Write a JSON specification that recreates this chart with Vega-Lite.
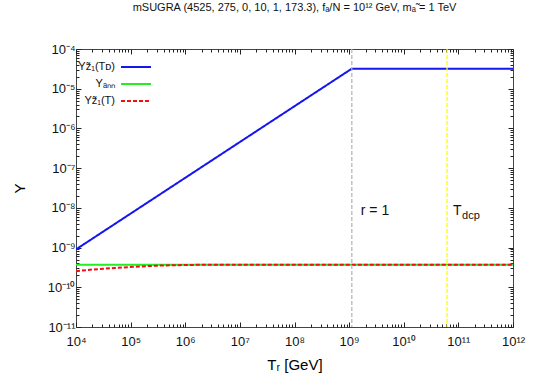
{
  "$schema": "https://vega.github.io/schema/vega-lite/v6.json",
  "width": 437,
  "height": 278,
  "autosize": "none",
  "padding": {"left": 76, "top": 49, "right": 32, "bottom": 55},
  "background": "white",
  "config": {
    "font": "Liberation Sans",
    "view": {"stroke": "#444444", "strokeWidth": 1},
    "axis": {"domain": false, "grid": false, "labelFlush": false, "labelFont": "Liberation Sans", "titleFont": "Liberation Sans", "titleFontWeight": "normal", "tickColor": "#222222", "labelColor": "#111111", "labelFontSize": 13}
  },
  "title": {"text": "mSUGRA (4525, 275, 0, 10, 1, 173.3), fₐ/N = 10¹² GeV, mₐ̃ = 1 TeV", "fontSize": 11, "fontWeight": "normal", "font": "Liberation Sans", "offset": 30, "anchor": "middle", "color": "#111111"},
  "resolve": {"axis": {"x": "independent", "y": "independent"}, "scale": {"color": "independent", "strokeDash": "independent"}},
  "layer": [
    {
      "data": {"values": [
        {"T": 1e4, "Y": 9e-10, "series": "Yz̃₁(Tᴅ)"},
        {"T": 1.12e9, "Y": 3.2e-5, "series": "Yz̃₁(Tᴅ)"},
        {"T": 1e12, "Y": 3.2e-5, "series": "Yz̃₁(Tᴅ)"},
        {"T": 1e4, "Y": 3.7e-10, "series": "Yₐₙₙ"},
        {"T": 1e12, "Y": 3.7e-10, "series": "Yₐₙₙ"},
        {"T": 1e4, "Y": 2.55e-10, "series": "Yz̃₁(T)"},
        {"T": 2e4, "Y": 2.8e-10, "series": "Yz̃₁(T)"},
        {"T": 5e4, "Y": 3.05e-10, "series": "Yz̃₁(T)"},
        {"T": 1e5, "Y": 3.25e-10, "series": "Yz̃₁(T)"},
        {"T": 3e5, "Y": 3.5e-10, "series": "Yz̃₁(T)"},
        {"T": 1e6, "Y": 3.65e-10, "series": "Yz̃₁(T)"},
        {"T": 3e6, "Y": 3.7e-10, "series": "Yz̃₁(T)"},
        {"T": 1e12, "Y": 3.7e-10, "series": "Yz̃₁(T)"}
      ]},
      "mark": {"type": "line", "strokeWidth": 2, "clip": true},
      "encoding": {
        "x": {"field": "T", "type": "quantitative", "scale": {"type": "log", "domain": [1e4, 1e12]},
          "axis": {"orient": "bottom", "title": "Tᵣ [GeV]", "titleFontSize": 15, "titlePadding": 9, "labelFontSize": 13, "labelPadding": 13,
            "values": [1e4,2e4,3e4,4e4,5e4,6e4,7e4,8e4,9e4,1e5,2e5,3e5,4e5,5e5,6e5,7e5,8e5,9e5,1e6,2e6,3e6,4e6,5e6,6e6,7e6,8e6,9e6,1e7,2e7,3e7,4e7,5e7,6e7,7e7,8e7,9e7,1e8,2e8,3e8,4e8,5e8,6e8,7e8,8e8,9e8,1e9,2e9,3e9,4e9,5e9,6e9,7e9,8e9,9e9,1e10,2e10,3e10,4e10,5e10,6e10,7e10,8e10,9e10,1e11,2e11,3e11,4e11,5e11,6e11,7e11,8e11,9e11,1e12],
            "labelExpr": "abs(log(datum.value)/LN10 - round(log(datum.value)/LN10)) < 1e-6 ? ['10⁴','10⁵','10⁶','10⁷','10⁸','10⁹','10¹⁰','10¹¹','10¹²'][round(log(datum.value)/LN10)-4] : ''",
            "tickSize": {"condition": {"test": "abs(log(datum.value)/LN10 - round(log(datum.value)/LN10)) < 1e-6", "value": -5}, "value": -3}}},
        "y": {"field": "Y", "type": "quantitative", "scale": {"type": "log", "domain": [1e-11, 1e-4]},
          "axis": {"orient": "left", "title": "Y", "titleFontSize": 15, "titlePadding": 20, "labelFontSize": 13, "labelPadding": 6,
            "values": [1e-11,2e-11,3e-11,4e-11,5e-11,6e-11,7e-11,8e-11,9e-11,1e-10,2e-10,3e-10,4e-10,5e-10,6e-10,7e-10,8e-10,9e-10,1e-9,2e-9,3e-9,4e-9,5e-9,6e-9,7e-9,8e-9,9e-9,1e-8,2e-8,3e-8,4e-8,5e-8,6e-8,7e-8,8e-8,9e-8,1e-7,2e-7,3e-7,4e-7,5e-7,6e-7,7e-7,8e-7,9e-7,1e-6,2e-6,3e-6,4e-6,5e-6,6e-6,7e-6,8e-6,9e-6,1e-5,2e-5,3e-5,4e-5,5e-5,6e-5,7e-5,8e-5,9e-5,1e-4],
            "labelExpr": "abs(log(datum.value)/LN10 - round(log(datum.value)/LN10)) < 1e-6 ? ['10⁻¹¹','10⁻¹⁰','10⁻⁹','10⁻⁸','10⁻⁷','10⁻⁶','10⁻⁵','10⁻⁴'][round(log(datum.value)/LN10)+11] : ''",
            "tickSize": {"condition": {"test": "abs(log(datum.value)/LN10 - round(log(datum.value)/LN10)) < 1e-6", "value": -5}, "value": -3}}},
        "color": {"field": "series", "type": "nominal", "sort": null,
          "scale": {"domain": ["Yz̃₁(Tᴅ)", "Yₐₙₙ", "Yz̃₁(T)"], "range": ["#1515ee", "#22ee22", "#ee1111"]},
          "legend": {"orient": "none", "legendX": 54, "legendY": 12, "title": null, "symbolType": "M-3,0H3", "symbolSize": 100, "symbolStrokeWidth": 2, "labelAlign": "right", "labelOffset": -27, "labelFontSize": 11, "labelFont": "Liberation Sans", "padding": 0, "rowPadding": 6, "labelColor": "#111111"}},
        "strokeDash": {"field": "series", "type": "nominal", "sort": null,
          "scale": {"domain": ["Yz̃₁(Tᴅ)", "Yₐₙₙ", "Yz̃₁(T)"], "range": [[1, 0], [1, 0], [4, 2]]}}
      }
    },
    {
      "data": {"values": [{"T": 1.12e9, "line": "r"}, {"T": 6.2e10, "line": "dcp"}]},
      "mark": {"type": "rule", "strokeDash": [4, 2], "strokeWidth": 1.3},
      "encoding": {
        "x": {"field": "T", "type": "quantitative", "scale": {"type": "log", "domain": [1e4, 1e12]}, "axis": null},
        "color": {"field": "line", "type": "nominal", "scale": {"domain": ["r", "dcp"], "range": ["#b8b8b8", "#ffff00"]}, "legend": null}
      }
    },
    {
      "data": {"values": [{"T": 1.12e9, "Y": 8.3e-9, "text": "r = 1"}]},
      "mark": {"type": "text", "align": "left", "baseline": "middle", "dx": 9, "fontSize": 14, "font": "Liberation Sans", "color": "#111111"},
      "encoding": {
        "x": {"field": "T", "type": "quantitative", "scale": {"type": "log", "domain": [1e4, 1e12]}, "axis": null},
        "y": {"field": "Y", "type": "quantitative", "scale": {"type": "log", "domain": [1e-11, 1e-4]}, "axis": null},
        "text": {"field": "text"}
      }
    },
    {
      "data": {"values": [{"T": 6.2e10, "Y": 8.3e-9, "text": "T"}]},
      "mark": {"type": "text", "align": "left", "baseline": "middle", "dx": 6, "fontSize": 14, "font": "Liberation Sans", "color": "#111111"},
      "encoding": {
        "x": {"field": "T", "type": "quantitative", "scale": {"type": "log", "domain": [1e4, 1e12]}, "axis": null},
        "y": {"field": "Y", "type": "quantitative", "scale": {"type": "log", "domain": [1e-11, 1e-4]}, "axis": null},
        "text": {"field": "text"}
      }
    },
    {
      "data": {"values": [{"T": 6.2e10, "Y": 8.3e-9, "text": "dcp"}]},
      "mark": {"type": "text", "align": "left", "baseline": "middle", "dx": 15, "dy": 5, "fontSize": 11, "font": "Liberation Sans", "color": "#111111"},
      "encoding": {
        "x": {"field": "T", "type": "quantitative", "scale": {"type": "log", "domain": [1e4, 1e12]},
          "axis": {"orient": "top", "title": null, "labels": false,
            "values": [1e4,2e4,3e4,4e4,5e4,6e4,7e4,8e4,9e4,1e5,2e5,3e5,4e5,5e5,6e5,7e5,8e5,9e5,1e6,2e6,3e6,4e6,5e6,6e6,7e6,8e6,9e6,1e7,2e7,3e7,4e7,5e7,6e7,7e7,8e7,9e7,1e8,2e8,3e8,4e8,5e8,6e8,7e8,8e8,9e8,1e9,2e9,3e9,4e9,5e9,6e9,7e9,8e9,9e9,1e10,2e10,3e10,4e10,5e10,6e10,7e10,8e10,9e10,1e11,2e11,3e11,4e11,5e11,6e11,7e11,8e11,9e11,1e12],
            "tickSize": {"condition": {"test": "abs(log(datum.value)/LN10 - round(log(datum.value)/LN10)) < 1e-6", "value": -5}, "value": -3}}},
        "y": {"field": "Y", "type": "quantitative", "scale": {"type": "log", "domain": [1e-11, 1e-4]},
          "axis": {"orient": "right", "title": null, "labels": false,
            "values": [1e-11,2e-11,3e-11,4e-11,5e-11,6e-11,7e-11,8e-11,9e-11,1e-10,2e-10,3e-10,4e-10,5e-10,6e-10,7e-10,8e-10,9e-10,1e-9,2e-9,3e-9,4e-9,5e-9,6e-9,7e-9,8e-9,9e-9,1e-8,2e-8,3e-8,4e-8,5e-8,6e-8,7e-8,8e-8,9e-8,1e-7,2e-7,3e-7,4e-7,5e-7,6e-7,7e-7,8e-7,9e-7,1e-6,2e-6,3e-6,4e-6,5e-6,6e-6,7e-6,8e-6,9e-6,1e-5,2e-5,3e-5,4e-5,5e-5,6e-5,7e-5,8e-5,9e-5,1e-4],
            "tickSize": {"condition": {"test": "abs(log(datum.value)/LN10 - round(log(datum.value)/LN10)) < 1e-6", "value": -5}, "value": -3}}},
        "text": {"field": "text"}
      }
    }
  ]
}
